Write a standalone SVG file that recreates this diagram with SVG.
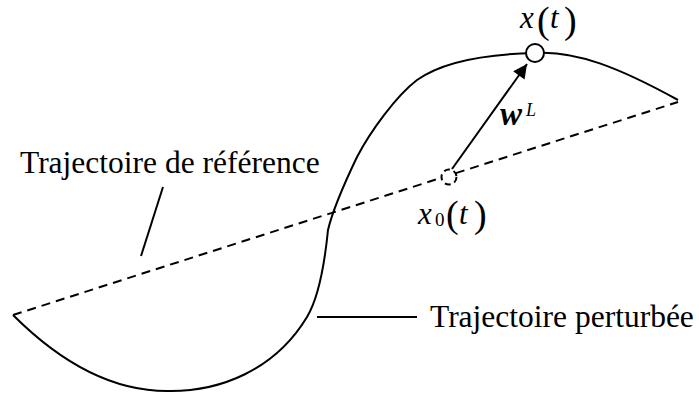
<svg xmlns="http://www.w3.org/2000/svg" width="699" height="396" viewBox="0 0 699 396">
<defs>
<style>
.ln{fill:none;stroke:#000;stroke-width:2;}
.dash{fill:none;stroke:#000;stroke-width:2;stroke-dasharray:9 6;}
.lbl{font-family:"Liberation Serif","Times New Roman",serif;font-size:31.5px;fill:#000;}
.m{font-family:"Liberation Serif","Times New Roman",serif;fill:#000;}
.it{font-style:italic;font-size:31px;}
.par{font-size:38px;}
</style>
<marker id="ah" viewBox="0 0 10 10" refX="10" refY="5" markerWidth="8" markerHeight="7" markerUnits="strokeWidth" orient="auto">
<path d="M0,0 L10,5 L0,10 Z" fill="#000"/>
</marker>
</defs>
<rect width="699" height="396" fill="#fff"/>
<g id="connectors">
<path id="reference" class="dash" d="M13,315 L678,102"/>
<path id="perturbed" class="ln" d="M13,315 C60,362 110,391 167,391 C220,392 275,370 307,317 C319,297 325,260 328,230 C332,213 345,182 357,157 C370,132 396,96 417,80 C445,60 490,54 535,53 C575,50 620,68 678,100"/>
<line id="wL-arrow" class="ln" x1="452" y1="169" x2="527" y2="64" marker-end="url(#ah)"/>
<line id="ref-leader" class="ln" x1="163" y1="187" x2="141" y2="256"/>
<line id="pert-leader" class="ln" x1="317" y1="317" x2="417" y2="317"/>
</g>
<g id="x0-point">
<circle cx="449" cy="177" r="7.5" fill="#fff" stroke="#000" stroke-width="2" stroke-dasharray="6 4"/>
</g>
<g id="x-point">
<circle cx="535" cy="53" r="9" fill="#fff" stroke="#000" stroke-width="2"/>
</g>
<g id="label-ref"><text class="lbl" x="20" y="173">Trajectoire de référence</text></g>
<g id="label-pert"><text class="lbl" x="430" y="327">Trajectoire perturbée</text></g>
<g id="label-xt">
<text class="m it" x="520" y="28">x</text>
<text class="m par" x="537" y="33">(</text>
<text class="m it" x="550" y="28">t</text>
<text class="m par" x="564" y="33">)</text>
</g>
<g id="label-x0t">
<text class="m it" x="418" y="224">x</text>
<text class="m" x="435" y="226" font-size="19">0</text>
<text class="m par" x="446" y="227">(</text>
<text class="m it" x="459" y="224">t</text>
<text class="m par" x="474" y="227">)</text>
</g>
<g id="label-wL">
<text class="m" x="500" y="125" font-size="33" font-style="italic" font-weight="bold">w</text>
<text class="m" x="526" y="116" font-size="18" font-style="italic">L</text>
</g>
</svg>
